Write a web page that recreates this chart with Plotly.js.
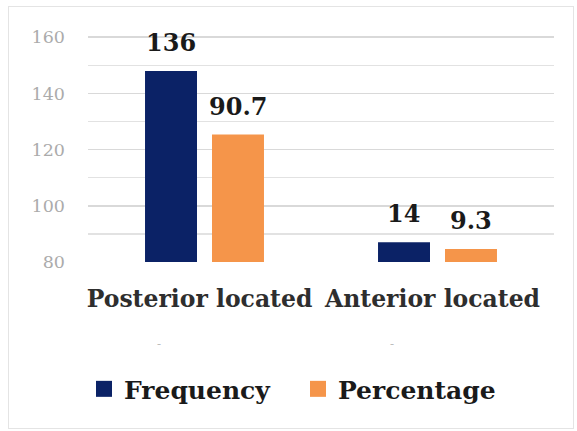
<!DOCTYPE html>
<html>
<head>
<meta charset="utf-8">
<script src="https://cdn.plot.ly/plotly-3.0.1.min.js"></script>
<style>
  html, body { margin: 0; padding: 0; background: #ffffff; }
  #wrap { position: relative; width: 577px; height: 431px; }
  #chart { position: absolute; left: 0; top: 0; width: 577px; height: 431px; }
  #frame { position: absolute; left: 8px; top: 6px; width: 564px; height: 421px;
           border: 1px solid #e4e4e4; pointer-events: none; }
</style>
</head>
<body>
<div id="wrap">
  <div id="chart"></div>
  <div id="frame"></div>
</div>
<script>
// ---- data ----
var categories = ["Posterior located", "Anterior located"];
var frequency = [136, 14];
var percentage = [90.7, 9.3];
var seriesNames = ["Frequency", "Percentage"];
var tickValues = [0, 40, 80, 120, 160];
var tickLabels = ["80", "100", "120", "140", "160"];
var subLabels = ["-", "-"];

var navy = "#0b2266";
var orange = "#f5954a";
var serif = "DejaVu Serif, Liberation Serif, serif";

var traces = [
  { type: "bar", name: seriesNames[0], x: categories, y: frequency,
    marker: { color: navy }, hoverinfo: "skip", showlegend: false },
  { type: "bar", name: seriesNames[1], x: categories, y: percentage,
    marker: { color: orange }, hoverinfo: "skip", showlegend: false },
  { type: "scatter", mode: "markers", name: seriesNames[0], x: [categories[0]], y: [null],
    marker: { color: navy, symbol: "square", size: 16 }, showlegend: true, legend: "legend" },
  { type: "scatter", mode: "markers", name: seriesNames[1], x: [categories[0]], y: [null],
    marker: { color: orange, symbol: "square", size: 16 }, showlegend: true, legend: "legend2" }
];

var annotations = [];
[frequency, percentage].forEach(function (vals, s) {
  vals.forEach(function (v, i) {
    annotations.push({
      x: categories[i], y: v, xref: "x", yref: "y",
      text: String(v), showarrow: false,
      xanchor: "center", yanchor: "bottom",
      xshift: s === 0 ? -34 : 33, yshift: 12,
      font: { family: serif, size: 24, color: "#1a1a1a", weight: "bold" }
    });
  });
});
subLabels.forEach(function (t, i) {
  annotations.push({
    x: categories[i], y: -0.36, xref: "x", yref: "paper",
    text: t, showarrow: false, xanchor: "center", yanchor: "middle",
    xshift: -46, font: { family: serif, size: 12, color: "#bdbdbd" }
  });
});

var legendFont = { family: serif, size: 25, color: "#1a1a1a", weight: "bold" };

var layout = {
  width: 577, height: 431,
  margin: { l: 88, r: 23, t: 33, b: 169 },
  paper_bgcolor: "#ffffff", plot_bgcolor: "#ffffff",
  barmode: "group", bargap: 0.425, bargroupgap: 0.224,
  showlegend: true,
  legend: {
    orientation: "h", x: -0.0086, xanchor: "left", y: -0.555, yanchor: "middle",
    font: legendFont, itemwidth: 30, itemclick: false, itemdoubleclick: false
  },
  legend2: {
    orientation: "h", x: 0.4506, xanchor: "left", y: -0.555, yanchor: "middle",
    font: legendFont, itemwidth: 30, itemclick: false, itemdoubleclick: false
  },
  xaxis: {
    type: "category", showgrid: false, zeroline: false, showline: false,
    ticks: "", ticklabelstandoff: 20, ticklabelshift: -5,
    tickfont: { family: serif, size: 23.5, color: "#2e2e2e", weight: "bold" }
  },
  yaxis: {
    range: [0, 163], tickvals: tickValues, ticktext: tickLabels,
    showgrid: true, gridcolor: "#d9d9d9", gridwidth: 1.5,
    minor: { dtick: 20, showgrid: true, gridcolor: "#e2e2e2", gridwidth: 1.5 },
    zeroline: false, showline: false, ticks: "", ticklabelstandoff: 22,
    tickfont: { family: serif, size: 17.5, color: "#ababab" }
  },
  annotations: annotations
};

Plotly.newPlot("chart", traces, layout, { staticPlot: true, displayModeBar: false });
</script>
</body>
</html>
